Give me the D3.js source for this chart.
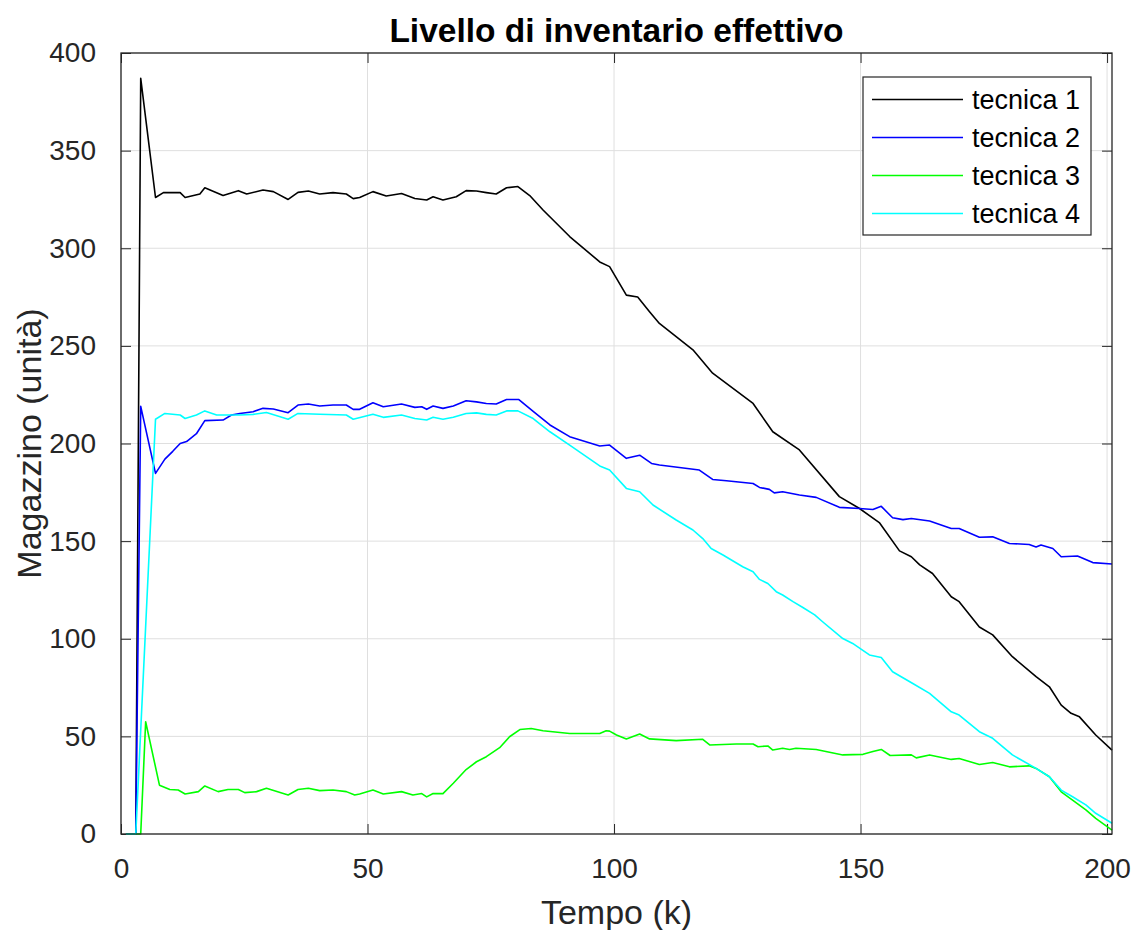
<!DOCTYPE html>
<html>
<head>
<meta charset="utf-8">
<title>Livello di inventario effettivo</title>
<script src="https://cdn.jsdelivr.net/npm/d3@7"></script>
<style>
	body { margin: 0; background: #fff; }
	svg { display: block; font-family: "Liberation Sans", Arial, sans-serif; }
</style>
</head>
<body>
<svg id="chart" width="1141" height="930"></svg>
<script>
	//values, as [k, magazzino]
var tecnica1 = [[1,0],[3,0],[4,387],[7,326],[8.6,328.5],[12,328.5],[13,326],[16,327.8],[17,331],[20.7,327],[23.8,329.5],[25.5,327.8],[28.8,329.8],[30.9,329],[33.9,325],[35.9,328.6],[38,329.3],[40.3,327.8],[43,328.5],[45.7,327.8],[47.1,325.4],[48.4,326],[51.1,329],[53.8,326.8],[56.9,328],[59.6,325.5],[62,324.7],[63.3,326.4],[65.3,324.7],[68,326.4],[70,329.5],[72.1,329.3],[74.1,328.5],[76.1,327.8],[78.2,331],[80.5,331.6],[82.9,327],[85.6,319.6],[91,306],[97.1,293],[99.1,290.6],[102.5,276],[104.8,275],[107.2,267.5],[109.2,261.5],[116,248],[120,236],[128.2,220.5],[132.2,206],[137.6,196.7],[145.7,172.8],[149.8,166.7],[153.8,159.5],[157.9,145],[160.3,142],[162,137.8],[164.6,133.4],[168.4,121.5],[170,119],[174.1,106],[176.8,102],[180.8,90.8],[185.6,80.6],[188.3,75.4],[190.7,66],[192.7,61.8],[194.4,60],[197.7,50.7],[201,43]];

var tecnica2 = [[1,0],[3,0],[4,219],[7,184.7],[8.9,192],[10.5,196],[12,200],[13.3,201],[15.3,205],[17,211.7],[20.7,212],[22.4,214.6],[24.1,215.4],[26.8,216.3],[28.8,218],[30.9,217.7],[33.9,215.8],[35.9,219.7],[38,220.2],[40.3,219.2],[43,219.7],[45.7,219.7],[47.1,217.5],[48.4,217.5],[51.1,220.9],[53.2,218.8],[56.9,220.2],[59.6,218.5],[61,218.8],[62,217.5],[63.3,219.2],[65.3,218],[67.4,219.2],[70,221.9],[72.1,221.3],[74.1,220.5],[76.1,220.2],[78.2,222.5],[80.7,222.5],[83.6,216.5],[87,209.5],[91,203.5],[97.1,198.7],[99.1,199.2],[102.5,192.4],[105.2,194],[107.6,189.8],[109.2,189],[117.3,186.4],[120,181.6],[122.8,180.9],[128.2,179.5],[129.5,177.5],[131.5,176.5],[132.5,174.7],[134.2,175.3],[137.6,173.6],[141,172.4],[145.7,167.3],[149.8,166.7],[152.5,166.2],[154.2,167.8],[156.5,162],[158.6,161],[160.3,161.6],[164,160.3],[168.4,156.5],[170,156.5],[174.1,152],[176.8,152.2],[180.2,148.8],[184.2,148.3],[185.6,147],[186.6,148],[189,146.2],[190.7,142],[194,142.4],[197.1,139],[201,138.3]];

var tecnica3 = [[1,0],[4,0],[5,57.5],[7.8,25],[9.9,22.8],[11.6,22.5],[13,20.5],[15.7,21.7],[17,24.6],[19.7,21.7],[21.7,22.8],[23.8,22.8],[25.1,21.2],[27.5,21.7],[29.5,23.4],[33.9,20],[35.9,22.8],[38,23.4],[40.3,22.2],[43,22.5],[45.7,21.7],[47.4,20],[48.4,20.5],[51.1,22.5],[53.2,20.5],[56.9,21.7],[59.2,20],[61,20.7],[62,19],[63.3,20.7],[65.3,20.7],[67.4,26],[70,33],[72.1,37],[74.1,39.6],[76.8,44.2],[78.8,49.8],[80.9,53.5],[83.2,54],[85.6,52.9],[91,51.5],[97.1,51.5],[98.4,52.9],[99.1,52.7],[100.5,50.7],[102.5,48.7],[105.2,51.2],[107.2,48.7],[112.6,47.8],[118,48.5],[119.4,45.6],[124.8,46.1],[128.2,46.1],[129.2,44.7],[131.2,45.1],[132.2,43],[134.2,43.9],[135.6,43.3],[136.9,43.9],[141,43.3],[146.4,40.5],[150.5,40.8],[152.5,42.2],[154.2,43.3],[156,40.2],[160.3,40.5],[161.3,39],[164,40.5],[168.4,38.2],[170,38.7],[174.1,35.6],[176.8,36.6],[180.2,34.4],[184.2,34.9],[185.6,33.6],[188.3,29.3],[190.7,21.6],[193,17.4],[195.7,12.3],[197.7,8],[201,2]];

var tecnica4 = [[1,0],[3,0],[7,212.4],[8.9,215.4],[12,214.6],[13,212.8],[15.3,214.6],[17,216.7],[19.4,214.6],[24.1,214.6],[26.8,214.9],[29.5,215.9],[33.9,212.4],[35.9,215.4],[40.3,215],[45.7,214.6],[47.1,212.4],[51.1,215],[53.2,213.4],[56.9,214.6],[59.6,212.8],[62,212],[63.3,213.4],[65.3,212.4],[67.4,213.4],[70,215.4],[72.1,215.7],[74.1,214.9],[76.1,214.6],[78.2,216.7],[80.5,216.7],[83.6,212.8],[87,206],[91,199.2],[97.1,188.5],[99.1,186.4],[102.5,177],[105.2,175.3],[107.9,168.5],[112.6,160.8],[116,155.7],[118,151.3],[119.7,146.2],[122.1,142.9],[126.1,136.9],[128.2,134.3],[129.5,130.4],[131.2,128.3],[132.9,124.1],[134.2,122.4],[136.3,119],[138.3,116],[140.7,112.2],[142.3,108.7],[146.4,100.1],[148.4,97.6],[151.8,91.7],[154.2,90.4],[156.5,83.1],[160.6,77.1],[164,72],[168.4,62.6],[170,60.9],[174.1,52.4],[176.8,49],[180.8,40.5],[185.6,33.6],[188.3,29.3],[190.7,22.5],[193,19.1],[195.7,14.9],[197.7,10.6],[201,5.5]];

var seriesNames = ['tecnica 1', 'tecnica 2', 'tecnica 3', 'tecnica 4'];
var seriesColors = ['#000000', '#0000ff', '#00ff00', '#00ffff'];
var xTicks = [0, 50, 100, 150, 200];
var yTicks = [0, 50, 100, 150, 200, 250, 300, 350, 400];

var chartTitle = 'Livello di inventario effettivo';
var xLabel = 'Tempo (k)';
var yLabel = 'Magazzino (unità)';

function drawChart() {
	var svg = d3.select('#chart');
	var left = 121, right = 1112, top = 53, bottom = 834;
	var axisColor = '#262626';
	var tickLen = 10;

	var x = d3.scaleLinear().domain([0, 201]).range([left, right]);
	var y = d3.scaleLinear().domain([0, 400]).range([bottom, top]);

		//grid
	var grid = svg.append('g').attr('stroke', '#dfdfdf').attr('stroke-width', 1);
	xTicks.forEach(function(t) {
		grid.append('line').attr('x1', x(t)).attr('x2', x(t)).attr('y1', top).attr('y2', bottom);
	});
	yTicks.forEach(function(t) {
		grid.append('line').attr('x1', left).attr('x2', right).attr('y1', y(t)).attr('y2', y(t));
	});

		//axes with inward ticks on all four sides
	var xAxis = d3.axisBottom(x).tickValues(xTicks).tickSize(-tickLen).tickPadding(24);
	var yAxis = d3.axisLeft(y).tickValues(yTicks).tickSize(-tickLen).tickPadding(25);

	var gx = svg.append('g').attr('transform', 'translate(0,' + bottom + ')').call(xAxis);
	var gy = svg.append('g').attr('transform', 'translate(' + left + ',0)').call(yAxis);
	var gxTop = svg.append('g').attr('transform', 'translate(0,' + top + ')')
		.call(d3.axisTop(x).tickValues(xTicks).tickSize(-tickLen).tickFormat(''));
	var gyRight = svg.append('g').attr('transform', 'translate(' + right + ',0)')
		.call(d3.axisRight(y).tickValues(yTicks).tickSize(-tickLen).tickFormat(''));

	[gx, gy, gxTop, gyRight].forEach(function(g) {
		g.select('.domain').remove();
		g.selectAll('.tick line').attr('stroke', axisColor);
		g.selectAll('.tick text')
			.attr('fill', axisColor)
			.style('font-size', '28px')
			.style('font-family', '"Liberation Sans", Arial, sans-serif');
	});

		//lines
	var line = d3.line()
		.x(function(d) { return x(d[0]); })
		.y(function(d) { return y(d[1]); });

	[tecnica1, tecnica2, tecnica3, tecnica4].forEach(function(data, i) {
		svg.append('path')
			.datum(data)
			.attr('fill', 'none')
			.attr('stroke', seriesColors[i])
			.attr('stroke-width', 1.6)
			.attr('stroke-linejoin', 'round')
			.attr('d', line);
	});

		//box
	svg.append('rect')
		.attr('x', left).attr('y', top)
		.attr('width', right - left).attr('height', bottom - top)
		.attr('fill', 'none')
		.attr('stroke', axisColor)
		.attr('stroke-width', 1.3);

		//title and labels
	svg.append('text')
		.attr('x', (left + right) / 2).attr('y', 42)
		.attr('text-anchor', 'middle')
		.attr('fill', '#000')
		.style('font-size', '33.5px').style('font-weight', 'bold')
		.text(chartTitle);

	svg.append('text')
		.attr('x', (left + right) / 2).attr('y', 924)
		.attr('text-anchor', 'middle')
		.attr('fill', axisColor)
		.style('font-size', '34px')
		.text(xLabel);

	svg.append('text')
		.attr('transform', 'translate(41,' + (top + bottom) / 2 + ') rotate(-90)')
		.attr('text-anchor', 'middle')
		.attr('fill', axisColor)
		.style('font-size', '34px')
		.text(yLabel);

		//legend
	var legend = svg.append('g').attr('transform', 'translate(863,77)');
	legend.append('rect')
		.attr('width', 228).attr('height', 158)
		.attr('fill', '#fff')
		.attr('stroke', axisColor)
		.attr('stroke-width', 1.2);

	seriesNames.forEach(function(name, i) {
		var rowY = 22.5 + i * 38;
		legend.append('line')
			.attr('x1', 9).attr('x2', 100)
			.attr('y1', rowY).attr('y2', rowY)
			.attr('stroke', seriesColors[i])
			.attr('stroke-width', 1.6);
		legend.append('text')
			.attr('x', 109).attr('y', rowY)
			.attr('dy', '0.36em')
			.attr('fill', '#000')
			.style('font-size', '27px')
			.text(name);
	});
}

drawChart();
</script>
</body>
</html>
